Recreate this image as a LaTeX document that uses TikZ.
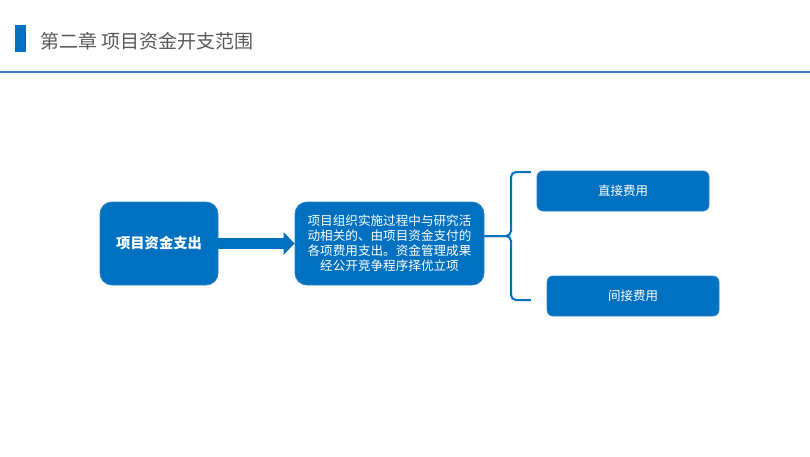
\documentclass[tikz,border=0pt]{standalone}
\usepackage{fontspec}
\newfontfamily\cjk{Noto Sans CJK SC}
\usetikzlibrary{arrows.meta}
\definecolor{boxblue}{RGB}{0,112,192}
\definecolor{rulegray}{RGB}{89,89,89}
\definecolor{lineblue}{RGB}{52,125,195}
\begin{document}
\begin{tikzpicture}[x=1pt, y=-1pt,
    bigbox/.style={fill=boxblue, draw=boxblue!85!white, line width=0.8pt, rounded corners=12pt, text=white, align=center, inner sep=0pt},
    smallbox/.style={fill=boxblue, draw=boxblue!85!white, line width=0.8pt, rounded corners=6pt, text=white, minimum width=172pt, minimum height=40pt, inner sep=0pt, font=\cjk\fontsize{12.5}{15}\selectfont},
    bracket/.style={boxblue, line width=2pt, rounded corners=5pt}]
    \useasboundingbox (0, 0) rectangle (810, 456);
    
    \fill[boxblue] (15, 25) rectangle (26, 52);
    \node[anchor=west, text=rulegray, font=\cjk\fontsize{19}{22}\selectfont] (title) at (37, 41.5) {第二章 项目资金开支范围};
    \fill[lineblue] (0, 70.5) rectangle (810, 72.5);
    
    \node[bigbox, minimum width=118pt, minimum height=83pt, font=\cjk\bfseries\fontsize{14.3}{17}\selectfont] (spend) at (159, 243.5) {项目资金支出};
    \node[bigbox, minimum width=189pt, minimum height=83pt, font=\cjk\fontsize{12.6}{15}\selectfont] (scope) at (389.5, 243.5) {项目组织实施过程中与研究活\\动相关的、由项目资金支付的\\各项费用支出。资金管理成果\\经公开竞争程序择优立项};
    \node[smallbox] (direct) at (623, 191) {直接费用};
    \node[smallbox] (indirect) at (633, 296) {间接费用};
    
    \draw[boxblue, line width=11pt, -{Triangle[length=11pt, width=22pt]}] (spend.east) -- (scope.west);
    
    \coordinate (mid) at (511, 236);
    \coordinate (btop) at (531, 172);
    \coordinate (bbot) at (531, 300);
    \draw[bracket] (btop) -- (btop -| mid) -- (mid) -- (mid -| scope.east);
    \draw[bracket] (bbot) -- (bbot -| mid) -- (mid) -- (mid -| scope.east);
    
\end{tikzpicture}
\end{document}
